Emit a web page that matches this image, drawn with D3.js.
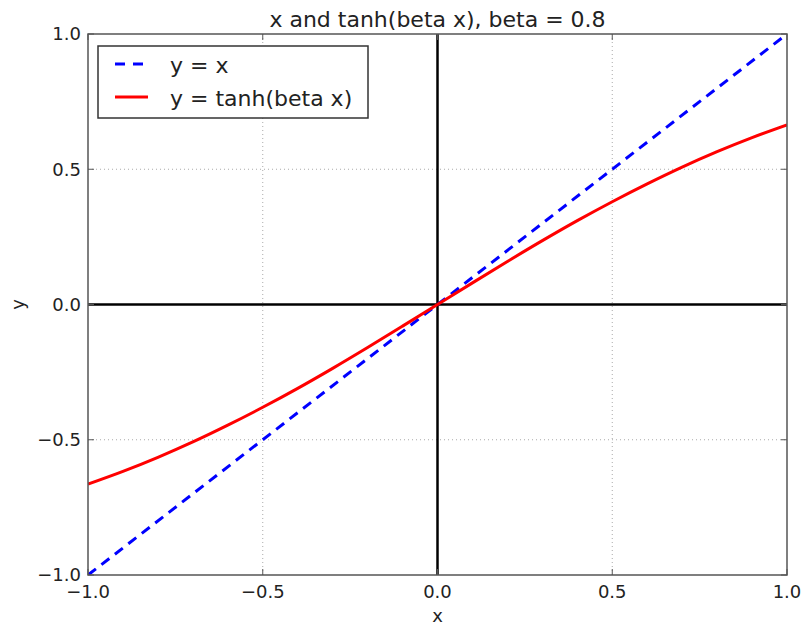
<!DOCTYPE html>
<html>
<head>
<meta charset="utf-8">
<script src="https://cdn.jsdelivr.net/npm/d3@7"></script>
<style>
  body { margin: 0; background: #fff; }
  text { font-family: "DejaVu Sans", sans-serif; fill: #222; }
</style>
</head>
<body>
<div id="vis"></div>
<script>
// values
const xValues = [-1.0, -0.9, -0.8, -0.7, -0.6, -0.5, -0.4, -0.3, -0.2, -0.1, 0.0,
                 0.1, 0.2, 0.3, 0.4, 0.5, 0.6, 0.7, 0.8, 0.9, 1.0];
const tanhValues = [-0.664, -0.617, -0.565, -0.508, -0.446, -0.380, -0.310, -0.236, -0.159, -0.080, 0.0,
                    0.080, 0.159, 0.236, 0.310, 0.380, 0.446, 0.508, 0.565, 0.617, 0.664];
const identityValues = [-1.0, 1.0];
const tickValues = [-1.0, -0.5, 0.0, 0.5, 1.0];
const tickLabels = ["\u22121.0", "\u22120.5", "0.0", "0.5", "1.0"];

const width = 802;
const height = 627;
const margin = { top: 34, right: 15, bottom: 52, left: 88 };

const x = d3.scaleLinear().domain([-1, 1]).range([margin.left, width - margin.right]);
const y = d3.scaleLinear().domain([-1, 1]).range([height - margin.bottom, margin.top]);

const svg = d3.select("#vis").append("svg")
  .attr("width", width)
  .attr("height", height);

// grid
svg.append("g").selectAll("line")
  .data(tickValues.slice(1, -1))
  .join("line")
  .attr("x1", d => x(d)).attr("x2", d => x(d))
  .attr("y1", y(-1)).attr("y2", y(1))
  .attr("stroke", "#aaa").attr("stroke-width", 1).attr("stroke-dasharray", "1,3");
svg.append("g").selectAll("line")
  .data(tickValues.slice(1, -1))
  .join("line")
  .attr("y1", d => y(d)).attr("y2", d => y(d))
  .attr("x1", x(-1)).attr("x2", x(1))
  .attr("stroke", "#aaa").attr("stroke-width", 1).attr("stroke-dasharray", "1,3");

// x=0 and y=0 lines
svg.append("line")
  .attr("x1", x(0)).attr("x2", x(0)).attr("y1", y(-1)).attr("y2", y(1))
  .attr("stroke", "#000").attr("stroke-width", 2.5);
svg.append("line")
  .attr("x1", x(-1)).attr("x2", x(1)).attr("y1", y(0)).attr("y2", y(0))
  .attr("stroke", "#000").attr("stroke-width", 2.5);

svg.append("clipPath").attr("id", "clip")
  .append("rect")
  .attr("x", x(-1)).attr("y", y(1))
  .attr("width", x(1) - x(-1)).attr("height", y(-1) - y(1));

const line = d3.line().x(d => x(d[0])).y(d => y(d[1]));

// y = x
svg.append("path")
  .attr("d", line(identityValues.map(v => [v, v])))
  .attr("fill", "none")
  .attr("stroke", "#0000ff")
  .attr("stroke-width", 3)
  .attr("stroke-dasharray", "10,7")
  .attr("clip-path", "url(#clip)");

// y = tanh(beta x)
svg.append("path")
  .attr("d", line.curve(d3.curveMonotoneX)(xValues.map((v, i) => [v, tanhValues[i]])))
  .attr("fill", "none")
  .attr("stroke", "#ff0000")
  .attr("stroke-width", 3)
  .attr("clip-path", "url(#clip)");

// frame
svg.append("rect")
  .attr("x", x(-1)).attr("y", y(1))
  .attr("width", x(1) - x(-1)).attr("height", y(-1) - y(1))
  .attr("fill", "none").attr("stroke", "#555").attr("stroke-width", 1.5);

// ticks, inward on all four sides
const tk = 6;
tickValues.forEach(v => {
  svg.append("line").attr("x1", x(v)).attr("x2", x(v)).attr("y1", y(-1)).attr("y2", y(-1) - tk).attr("stroke", "#555");
  svg.append("line").attr("x1", x(v)).attr("x2", x(v)).attr("y1", y(1)).attr("y2", y(1) + tk).attr("stroke", "#555");
  svg.append("line").attr("y1", y(v)).attr("y2", y(v)).attr("x1", x(-1)).attr("x2", x(-1) + tk).attr("stroke", "#555");
  svg.append("line").attr("y1", y(v)).attr("y2", y(v)).attr("x1", x(1)).attr("x2", x(1) - tk).attr("stroke", "#555");
});

// tick labels
svg.append("g").selectAll("text")
  .data(tickValues)
  .join("text")
  .attr("x", d => x(d))
  .attr("y", y(-1) + 23)
  .attr("text-anchor", "middle")
  .attr("font-size", 18)
  .text((d, i) => tickLabels[i]);

svg.append("g").selectAll("text")
  .data(tickValues)
  .join("text")
  .attr("x", x(-1) - 7)
  .attr("y", d => y(d))
  .attr("dy", "0.35em")
  .attr("text-anchor", "end")
  .attr("font-size", 18)
  .text((d, i) => tickLabels[i]);

// axis labels
svg.append("text")
  .attr("x", x(0)).attr("y", 622)
  .attr("text-anchor", "middle").attr("font-size", 18)
  .text("x");
svg.append("text")
  .attr("transform", `translate(24,${y(0)}) rotate(-90)`)
  .attr("text-anchor", "middle").attr("font-size", 18)
  .text("y");

// title
svg.append("text")
  .attr("x", x(0)).attr("y", 27)
  .attr("text-anchor", "middle").attr("font-size", 22)
  .text("x and tanh(beta x), beta = 0.8");

// legend
const legend = svg.append("g");
legend.append("rect")
  .attr("x", 98).attr("y", 46).attr("width", 270).attr("height", 72)
  .attr("fill", "#fff").attr("stroke", "#333").attr("stroke-width", 1.5);
legend.append("line")
  .attr("x1", 115).attr("x2", 145).attr("y1", 64).attr("y2", 64)
  .attr("stroke", "#0000ff").attr("stroke-width", 3).attr("stroke-dasharray", "10,8");
legend.append("line")
  .attr("x1", 115).attr("x2", 148).attr("y1", 97).attr("y2", 97)
  .attr("stroke", "#ff0000").attr("stroke-width", 3);
legend.append("text").attr("x", 170).attr("y", 65).attr("dy", "0.35em").attr("font-size", 22).text("y = x");
legend.append("text").attr("x", 170).attr("y", 98).attr("dy", "0.35em").attr("font-size", 22).text("y = tanh(beta x)");
</script>
</body>
</html>
